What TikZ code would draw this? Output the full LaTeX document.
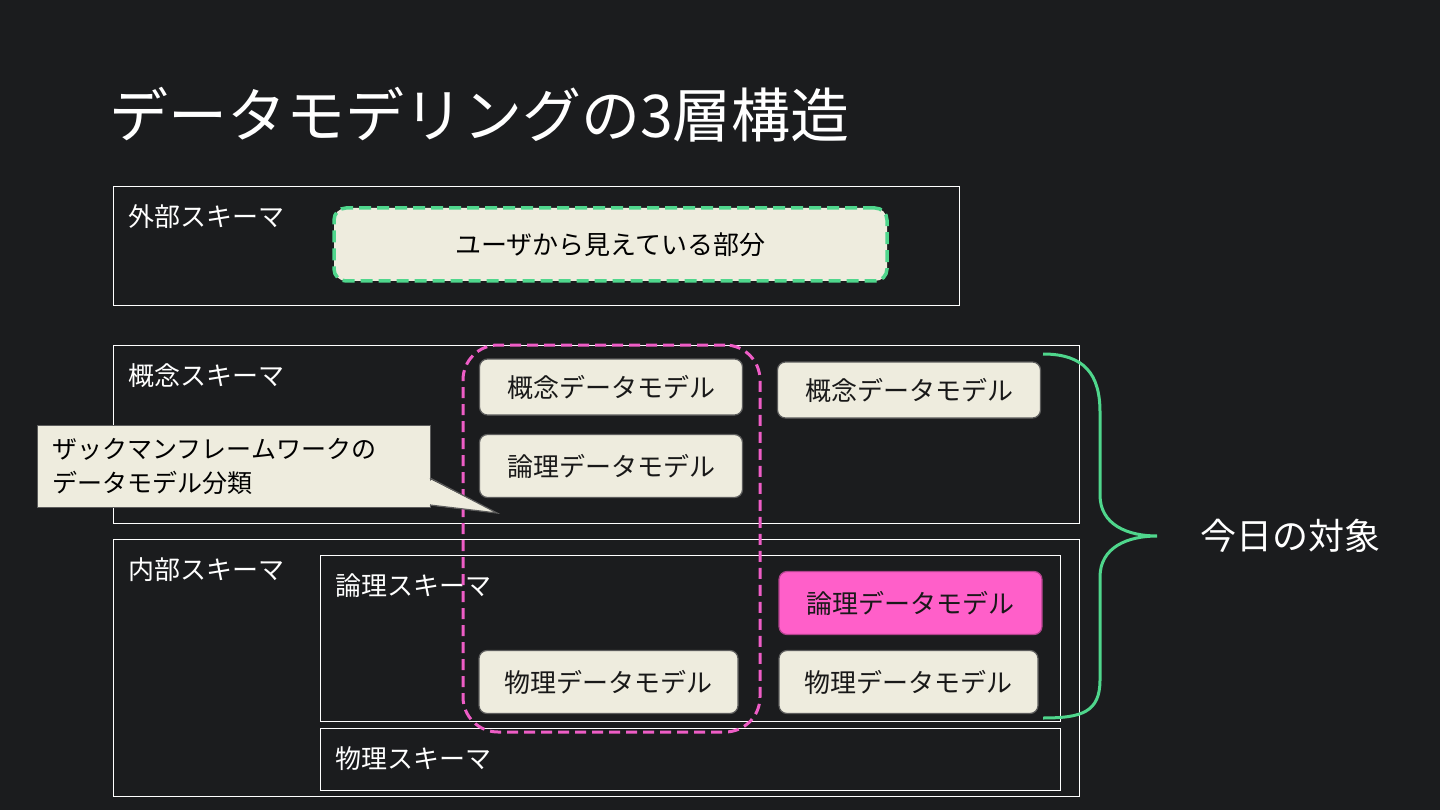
\documentclass[tikz,border=0pt]{standalone}
\usepackage{fontspec}
\setmainfont{Noto Sans CJK JP}
\usetikzlibrary{positioning}
\definecolor{bg}{HTML}{1B1C1E}
\definecolor{cream}{HTML}{EEECDE}
\definecolor{edge}{HTML}{5C5C5C}
\definecolor{accent}{HTML}{FF5FC9}
\definecolor{pinkline}{HTML}{EE5DC6}
\definecolor{mint}{HTML}{4FD68C}

\begin{document}
\begin{tikzpicture}[x=1pt,y=-1pt,
  schema/.style={draw=white,line width=1.4pt,anchor=north west,inner sep=0pt},
  lbl/.style={anchor=west,text=white,inner sep=0pt,font=\fontsize{26}{30}\selectfont},
  model/.style={draw=edge,fill=cream,rounded corners=8pt,line width=1.2pt,
    minimum width=263pt,minimum height=63pt,text=black!90,font=\fontsize{26}{30}\selectfont}]
  \fill[bg] (0,0) rectangle (1440,810);
  \useasboundingbox (0,0) rectangle (1440,810);

  \node[anchor=west,text=white,inner sep=0pt,font=\fontsize{59}{66}\selectfont] (title) at (109,115) {データモデリングの3層構造};

  % schema frames
  \node[schema,minimum width=846pt,minimum height=119pt] (ext) at (113,186) {};
  \node[schema,minimum width=966pt,minimum height=178pt] (con) at (113,345) {};
  \node[schema,minimum width=966pt,minimum height=257pt] (int) at (113,539) {};
  \node[schema,minimum width=740pt,minimum height=166pt] (log) at (320,555) {};
  \node[schema,minimum width=740pt,minimum height=62pt] (phy) at (320,728) {};
  \foreach \s/\txt in {ext/外部スキーマ, con/概念スキーマ, int/内部スキーマ, log/論理スキーマ, phy/物理スキーマ}
    \node[lbl] (\s-lbl) at ([xshift=15pt,yshift=-31pt]\s.north west) {\txt};

  \node[draw=mint,fill=cream,dash pattern=on 12pt off 6pt,line width=3.5pt,rounded corners=12pt,
    minimum width=553pt,minimum height=73pt,font=\fontsize{26}{30}\selectfont] (user) at (610.5,244.5) {ユーザから見えている部分};

  % zachman classification
  \node[draw=pinkline,dash pattern=on 11pt off 6pt,line width=3pt,rounded corners=35pt,
    minimum width=297pt,minimum height=387pt] (zach) at (611.5,538.5) {};
  \node[model,minimum height=56pt] (cm1) at (611,387) {概念データモデル};
  \node[model] (lm1) at (611,466) {論理データモデル};
  \node[model,minimum width=259pt] (pm1) at (608.5,682) {物理データモデル};

  \node[model,minimum height=56pt] (cm2) at (909,390) {概念データモデル};
  \node[model,fill=accent,draw=accent!70!black] (lm2) at (910.5,603) {論理データモデル};
  \node[model,minimum width=259pt] (pm2) at (908.5,682) {物理データモデル};

  % callout
  \coordinate (tip) at (497,513);
  \fill[cream] (428,478) -- (tip) -- (428,505) -- cycle;
  \node[draw=edge,fill=cream,line width=1.2pt,anchor=north west,minimum width=393pt,minimum height=82pt,
    text width=363pt,inner xsep=15pt,align=left,font=\fontsize{25}{34}\selectfont] (note) at (37,425)
    {ザックマンフレームワークの\\データモデル分類};
  \fill[cream] (427,479) -- (tip) -- (427,504) -- cycle;
  \draw[edge,line width=1.2pt] (430,478) -- (tip) -- (430,505);

  % brace
  \coordinate (btop) at (1043,354);
  \coordinate (bmid) at (1157,536);
  \coordinate (bbot) at (1043,718);
  \draw[mint,line width=3pt] (btop) .. controls (1085,354) and (1100,375) .. (1100,412) -- (1100,495)
    .. controls (1100,525) and (1128,536) .. (bmid)
    .. controls (1128,536) and (1100,547) .. (1100,577) -- (1100,680)
    .. controls (1100,712) and (1082,718) .. (bbot);
  \node[text=white,font=\fontsize{36}{40}\selectfont] (today) at (1290,536) {今日の対象};
\end{tikzpicture}
\end{document}
